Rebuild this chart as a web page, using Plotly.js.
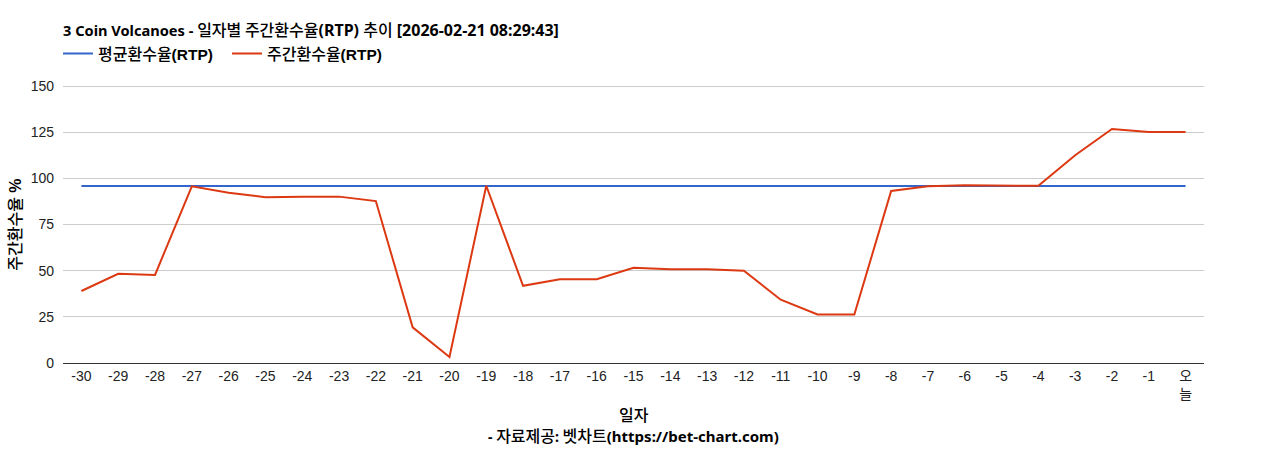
<!DOCTYPE html>
<html>
<head>
<meta charset="utf-8">
<script src="https://cdn.plot.ly/plotly-3.0.1.min.js"></script>
<style>html,body{margin:0;padding:0;background:#fff}#c{width:1268px;height:450px}</style>
</head>
<body>
<div id="c"></div>
<script>
const tickLabels = ["-30","-29","-28","-27","-26","-25","-24","-23","-22","-21","-20","-19","-18","-17","-16","-15","-14","-13","-12","-11","-10","-9","-8","-7","-6","-5","-4","-3","-2","-1","오<br>늘"];
const weeklyRtp = [39,48.3,47.7,95.7,92.2,89.8,90.1,90.1,87.7,19.3,3.3,96,41.8,45.4,45.4,51.6,50.8,50.8,50,34.3,26.3,26.3,93.2,95.7,96.2,96.3,96,112.5,126.7,125.1,125.1];
const averageRtp = [95.8,95.8,95.8,95.8,95.8,95.8,95.8,95.8,95.8,95.8,95.8,95.8,95.8,95.8,95.8,95.8,95.8,95.8,95.8,95.8,95.8,95.8,95.8,95.8,95.8,95.8,95.8,95.8,95.8,95.8,95.8];
const positions = tickLabels.map((_, i) => i);
const latin = '"Noto Sans","Noto Sans CJK KR",sans-serif';
const arial = '"Liberation Sans","Noto Sans CJK KR",sans-serif';
const ko = s => '<span style="font-family:\'Noto Sans CJK KR\';font-size:16px;font-weight:500">' + s + '</span>';
const nb = (s, z) => '<span style="font-family:\'Noto Sans\';font-size:' + z + 'px;font-weight:700">' + s + '</span>';
const rtp = '<span style="font-family:\'Liberation Sans\';font-size:15.5px;font-weight:700">(RTP)</span>';
const plotTop = 84.3, plotBottom = 363.3, plotH = plotBottom - plotTop, plotL = 63, plotW = 1141;
const py = y => (plotBottom - y) / plotH;
Plotly.newPlot('c', [
  {x: positions, y: averageRtp, type:'scatter', mode:'lines', name: ko('평균환수율') + rtp, line:{color:'#3366cc', width:2}},
  {x: positions, y: weeklyRtp, type:'scatter', mode:'lines', name: ko('주간환수율') + rtp, line:{color:'#dc3912', width:2}}
], {
  width:1268, height:450,
  paper_bgcolor:'#fff', plot_bgcolor:'#fff',
  margin:{l:plotL, r:64, t:plotTop, b:450-plotBottom},
  showlegend:true,
  legend:{orientation:'h', x:-5/plotW, xanchor:'left', y:py(37), yanchor:'top', font:{family:arial, size:16, color:'#000'}, itemwidth:30, entrywidth:124, entrywidthmode:'pixels', bgcolor:'rgba(0,0,0,0)', traceorder:'normal'},
  title:{text: nb('3 Coin Volcanoes - ',14.6) + ko('일자별 주간환수율') + nb('(RTP) ',16) + ko('추이') + nb(' [2026-02-21 08:29:43]',16), x:plotL/1268, xanchor:'left', y:1-31/450, yanchor:'middle', font:{family:latin, size:14, color:'#000'}},
  xaxis:{range:[-0.5,30.5], tickvals:positions, ticktext:tickLabels, tickangle:0, showgrid:false, zeroline:false, showline:false, ticks:'', ticklabelstandoff:3, tickfont:{family:arial, size:14, color:'#222'}, fixedrange:true},
  yaxis:{range:[0,151.1], tickvals:[0,25,50,75,100,125,150], showgrid:true, gridcolor:'#cccccc', gridwidth:1, zeroline:true, zerolinecolor:'#333333', zerolinewidth:1, ticks:'', ticklabelstandoff:8, tickfont:{family:arial, size:14, color:'#222'}, fixedrange:true},
  annotations:[
    {text: ko('일자'), xref:'paper', yref:'paper', x:0.5, y:py(414), xanchor:'center', yanchor:'middle', showarrow:false, font:{family:latin, size:14, color:'#000'}},
    {text: nb('- ',14) + ko('자료제공') + nb(': ',14) + ko('벳차트') + nb('(https://bet-chart.com)',15), xref:'paper', yref:'paper', x:0.5, y:py(435), xanchor:'center', yanchor:'middle', showarrow:false, font:{family:latin, size:14, color:'#000'}},
    {text: ko('주간환수율') + '<span style="font-family:\'Liberation Sans\';font-size:16px;font-weight:700"> %</span>', xref:'paper', yref:'paper', x:-49/plotW, y:py(225), xanchor:'center', yanchor:'middle', textangle:-90, showarrow:false, font:{family:latin, size:14, color:'#000'}}
  ]
}, {displayModeBar:false, staticPlot:true});
</script>
</body>
</html>
